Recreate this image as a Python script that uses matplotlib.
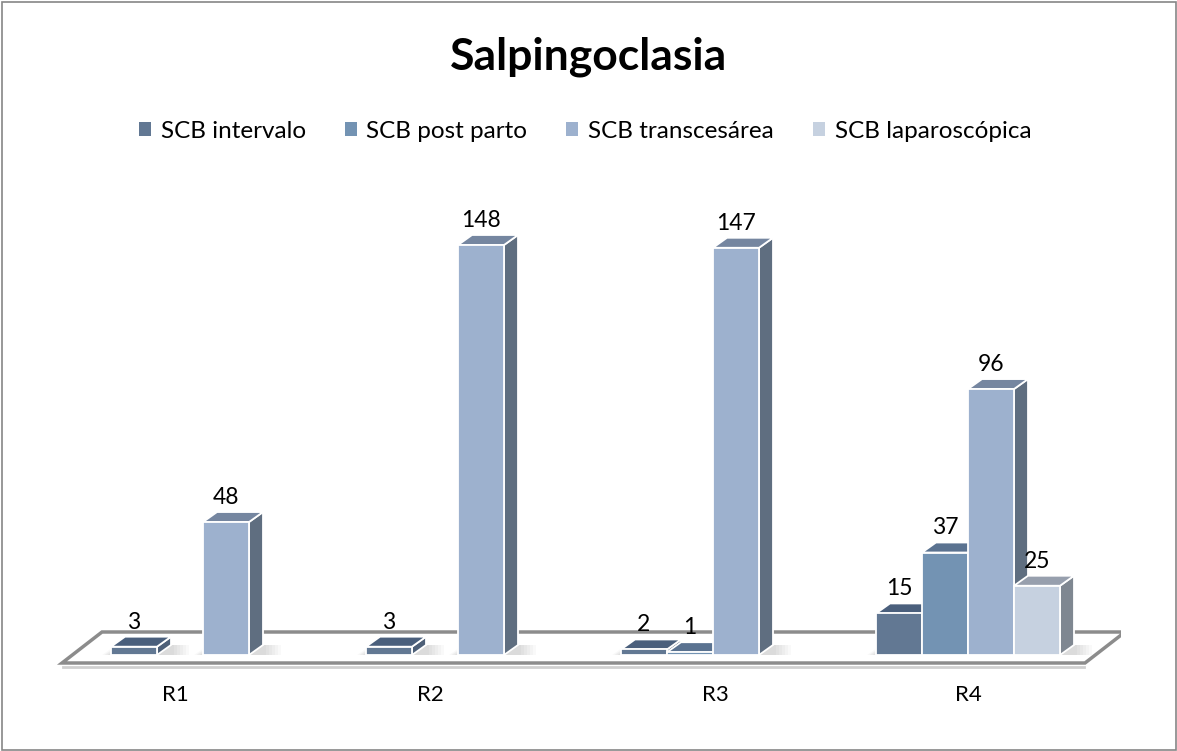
import numpy as np
import matplotlib
matplotlib.use("Agg")
import matplotlib.pyplot as plt
from matplotlib.patches import Polygon, Rectangle

plt.rcParams['font.family'] = ['Lato', 'DejaVu Sans']

# datos
regiones = ["R1", "R2", "R3", "R4"]
series = ["SCB intervalo", "SCB post parto", "SCB transcesárea", "SCB laparoscópica"]
intervalo = [3, 3, 2, 15]
post_parto = [None, None, 1, 37]
transcesarea = [48, 148, 147, 96]
laparoscopica = [None, None, None, 25]
valores = [intervalo, post_parto, transcesarea, laparoscopica]

# colores (frente, tapa, lado)
c_frente = ["#627893", "#7393B3", "#9DB1CE", "#C6D1E0"]
c_tapa = ["#4A5F7C", "#5A7290", "#7586A0", "#979FAD"]
c_lado = ["#4E6078", "#5F7690", "#5F6E80", "#7F8791"]

fig = plt.figure(figsize=(11.77, 7.51), dpi=100)
W, H = 1177, 751

# marco exterior
fig.patches.append(Rectangle((1.5 / W, 1.5 / H), 1 - 3 / W, 1 - 3 / H, transform=fig.transFigure,
                             fill=False, edgecolor="#868686", linewidth=1.2))

# ejes: y=0 en px 655, 148 en px 245
px_u = 410 / 148.0
x_lo, x_hi = -0.6, 3.6
y_lo, y_hi = -10, 160
left_px = 203 - 0.6 * 255
bottom_px = 655 + (-y_lo) * px_u
top_px = 655 - y_hi * px_u
ax = fig.add_axes([left_px / W, (H - bottom_px) / H, (x_hi - x_lo) * 255 / W, (bottom_px - top_px) / H])
ax.set_xlim(x_lo, x_hi)
ax.set_ylim(y_lo, y_hi)
ax.axis("off")

ancho = 46 / 255.0
dx = 14 / 255.0
dy = 10 / px_u

# piso
fdx = 40 / 255.0
fdy = 31 / px_u
f_front = -8 / px_u
fl = (62 - left_px) / 255.0 + x_lo
fr = (1085 - left_px) / 255.0 + x_lo
piso = Polygon([(fl, f_front), (fr, f_front), (fr + fdx, f_front + fdy), (fl + fdx, f_front + fdy)],
               closed=True, facecolor="white", edgecolor="#8C8C8C", linewidth=2.5, zorder=1)
ax.add_patch(piso)
ax.plot([fl + 0.005, fr - 0.005], [f_front - 4 / px_u, f_front - 4 / px_u], color="#D0D0D0", lw=2, zorder=1)

x = np.arange(len(regiones))
for i, serie in enumerate(series):
    pos = x - 2 * ancho + (i + 0.5) * ancho
    for xp, v in zip(pos, valores[i]):
        if v is None:
            continue
        x0 = xp - ancho / 2
        # sombra suave
        for k in range(6):
            ext = 0.07 * (k + 1) / 6
            sh = Polygon([(x0 - ext * 0.5, 0), (x0 + ancho + dx + ext, 0),
                          (x0 + ancho + dx + ext, dy), (x0 + dx - ext * 0.5, dy)],
                         closed=True, facecolor="#000000", alpha=0.022, edgecolor="none", zorder=2)
            ax.add_patch(sh)
        ax.bar(xp, v, width=ancho, color=c_frente[i], edgecolor="white", linewidth=1.3, zorder=4)
        tapa = Polygon([(x0, v), (x0 + ancho, v), (x0 + ancho + dx, v + dy), (x0 + dx, v + dy)],
                       closed=True, facecolor=c_tapa[i], edgecolor="white", linewidth=1.3, zorder=3)
        lado = Polygon([(x0 + ancho, 0), (x0 + ancho + dx, dy), (x0 + ancho + dx, v + dy), (x0 + ancho, v)],
                       closed=True, facecolor=c_lado[i], edgecolor="white", linewidth=1.3, zorder=3)
        ax.add_patch(lado)
        ax.add_patch(tapa)
        ax.text(xp, v + dy + 1.5, str(v), ha="center", va="bottom", fontsize=16.5, color="black", zorder=6)

# desplazamiento de etiquetas por la perspectiva
desplaz = [-0.11, -0.11, 0.01, 0.0]
for xi, d, r in zip(x, desplaz, regiones):
    ax.text(xi + d, -11, r, ha="center", va="top", fontsize=16, color="black", clip_on=False)

fig.text(0.5, 1 - 57 / H, "Salpingoclasia", ha="center", va="center", fontsize=32, fontweight="bold")

handles = [Rectangle((0, 0), 1, 1, facecolor=c) for c in c_frente]
fig.legend(handles, series, loc="center", bbox_to_anchor=(0.497, 1 - 131 / H), ncol=4, frameon=False,
           fontsize=17.5, handlelength=0.5, handleheight=0.5, handletextpad=0.4, columnspacing=1.6)

fig.savefig("out.png", dpi=100)
